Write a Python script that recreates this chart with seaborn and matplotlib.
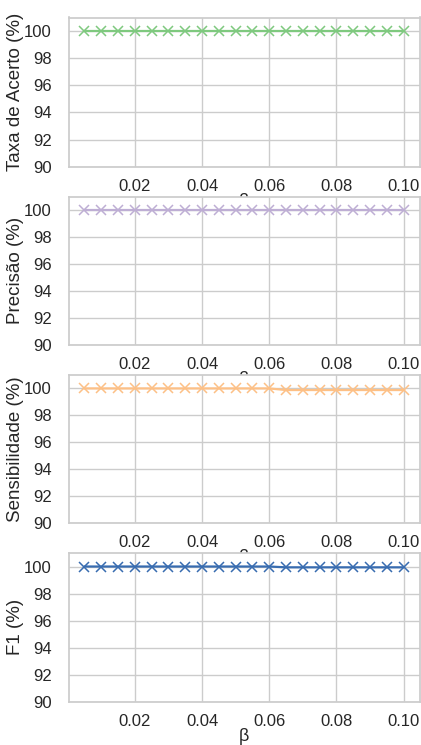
import numpy as np
import pandas as pd
import matplotlib
matplotlib.use("Agg")
import matplotlib.pyplot as plt
import seaborn as sns

beta = [0.005, 0.010, 0.015, 0.020, 0.025, 0.030, 0.035, 0.040, 0.045, 0.050,
        0.055, 0.060, 0.065, 0.070, 0.075, 0.080, 0.085, 0.090, 0.095, 0.100]
acc = [100.0] * 20
prec = [100.0] * 20
sens = [100.0, 100.0, 100.0, 100.0, 100.0, 100.0, 100.0, 100.0, 100.0, 100.0,
        100.0, 100.0, 99.88, 99.88, 99.88, 99.88, 99.88, 99.88, 99.88, 99.88]
f1 = [100.0, 100.0, 100.0, 100.0, 100.0, 100.0, 100.0, 100.0, 100.0, 100.0,
      100.0, 100.0, 99.94, 99.94, 99.94, 99.94, 99.94, 99.94, 99.94, 99.94]

labels = ["Taxa de Acerto (%)", "Precisão (%)", "Sensibilidade (%)", "F1 (%)"]
yticks = [90, 92, 94, 96, 98, 100]
colors = ["#7fc97f", "#beaed4", "#fdc086", "#386cb0"]

sns.set_theme(style="whitegrid", context="notebook")
plt.rcParams['font.family'] = ['Arial', 'Liberation Sans', 'DejaVu Sans']

fig = plt.figure(figsize=(4.21, 7.45), dpi=100)
W, H = 421, 745
boxes = [(17.5, 166.7), (197, 344.7), (375, 522.7), (553, 701.7)]
series = [acc, prec, sens, f1]
for i, ((top, bot), vals) in enumerate(zip(boxes, series)):
    ax = fig.add_axes([68.5 / W, 1 - bot / H, (419.5 - 68.5) / W, (bot - top) / H])
    df = pd.DataFrame({"beta": beta, "v": vals})
    sns.lineplot(data=df, x="beta", y="v", ax=ax, color=colors[i], marker="x",
                 markersize=6.5, markeredgewidth=1.1, markeredgecolor=colors[i],
                 linewidth=1.6)
    ax.set_ylim(90, 101)
    ax.set_yticks(yticks)
    ax.set_xticks([0.02, 0.04, 0.06, 0.08, 0.10])
    ax.set_xticklabels(["0.02", "0.04", "0.06", "0.08", "0.10"])
    ax.set_ylabel(labels[i], fontsize=13.5, labelpad=0)
    ax.set_xlabel("β", fontsize=13, labelpad=-0.5)
    ax.tick_params(axis="x", labelsize=12, pad=2.5)
    ax.tick_params(axis="y", labelsize=12, pad=6)
    ax.set_zorder(i)
    ax.patch.set_facecolor("white")

fig.savefig("out.png", dpi=100)
